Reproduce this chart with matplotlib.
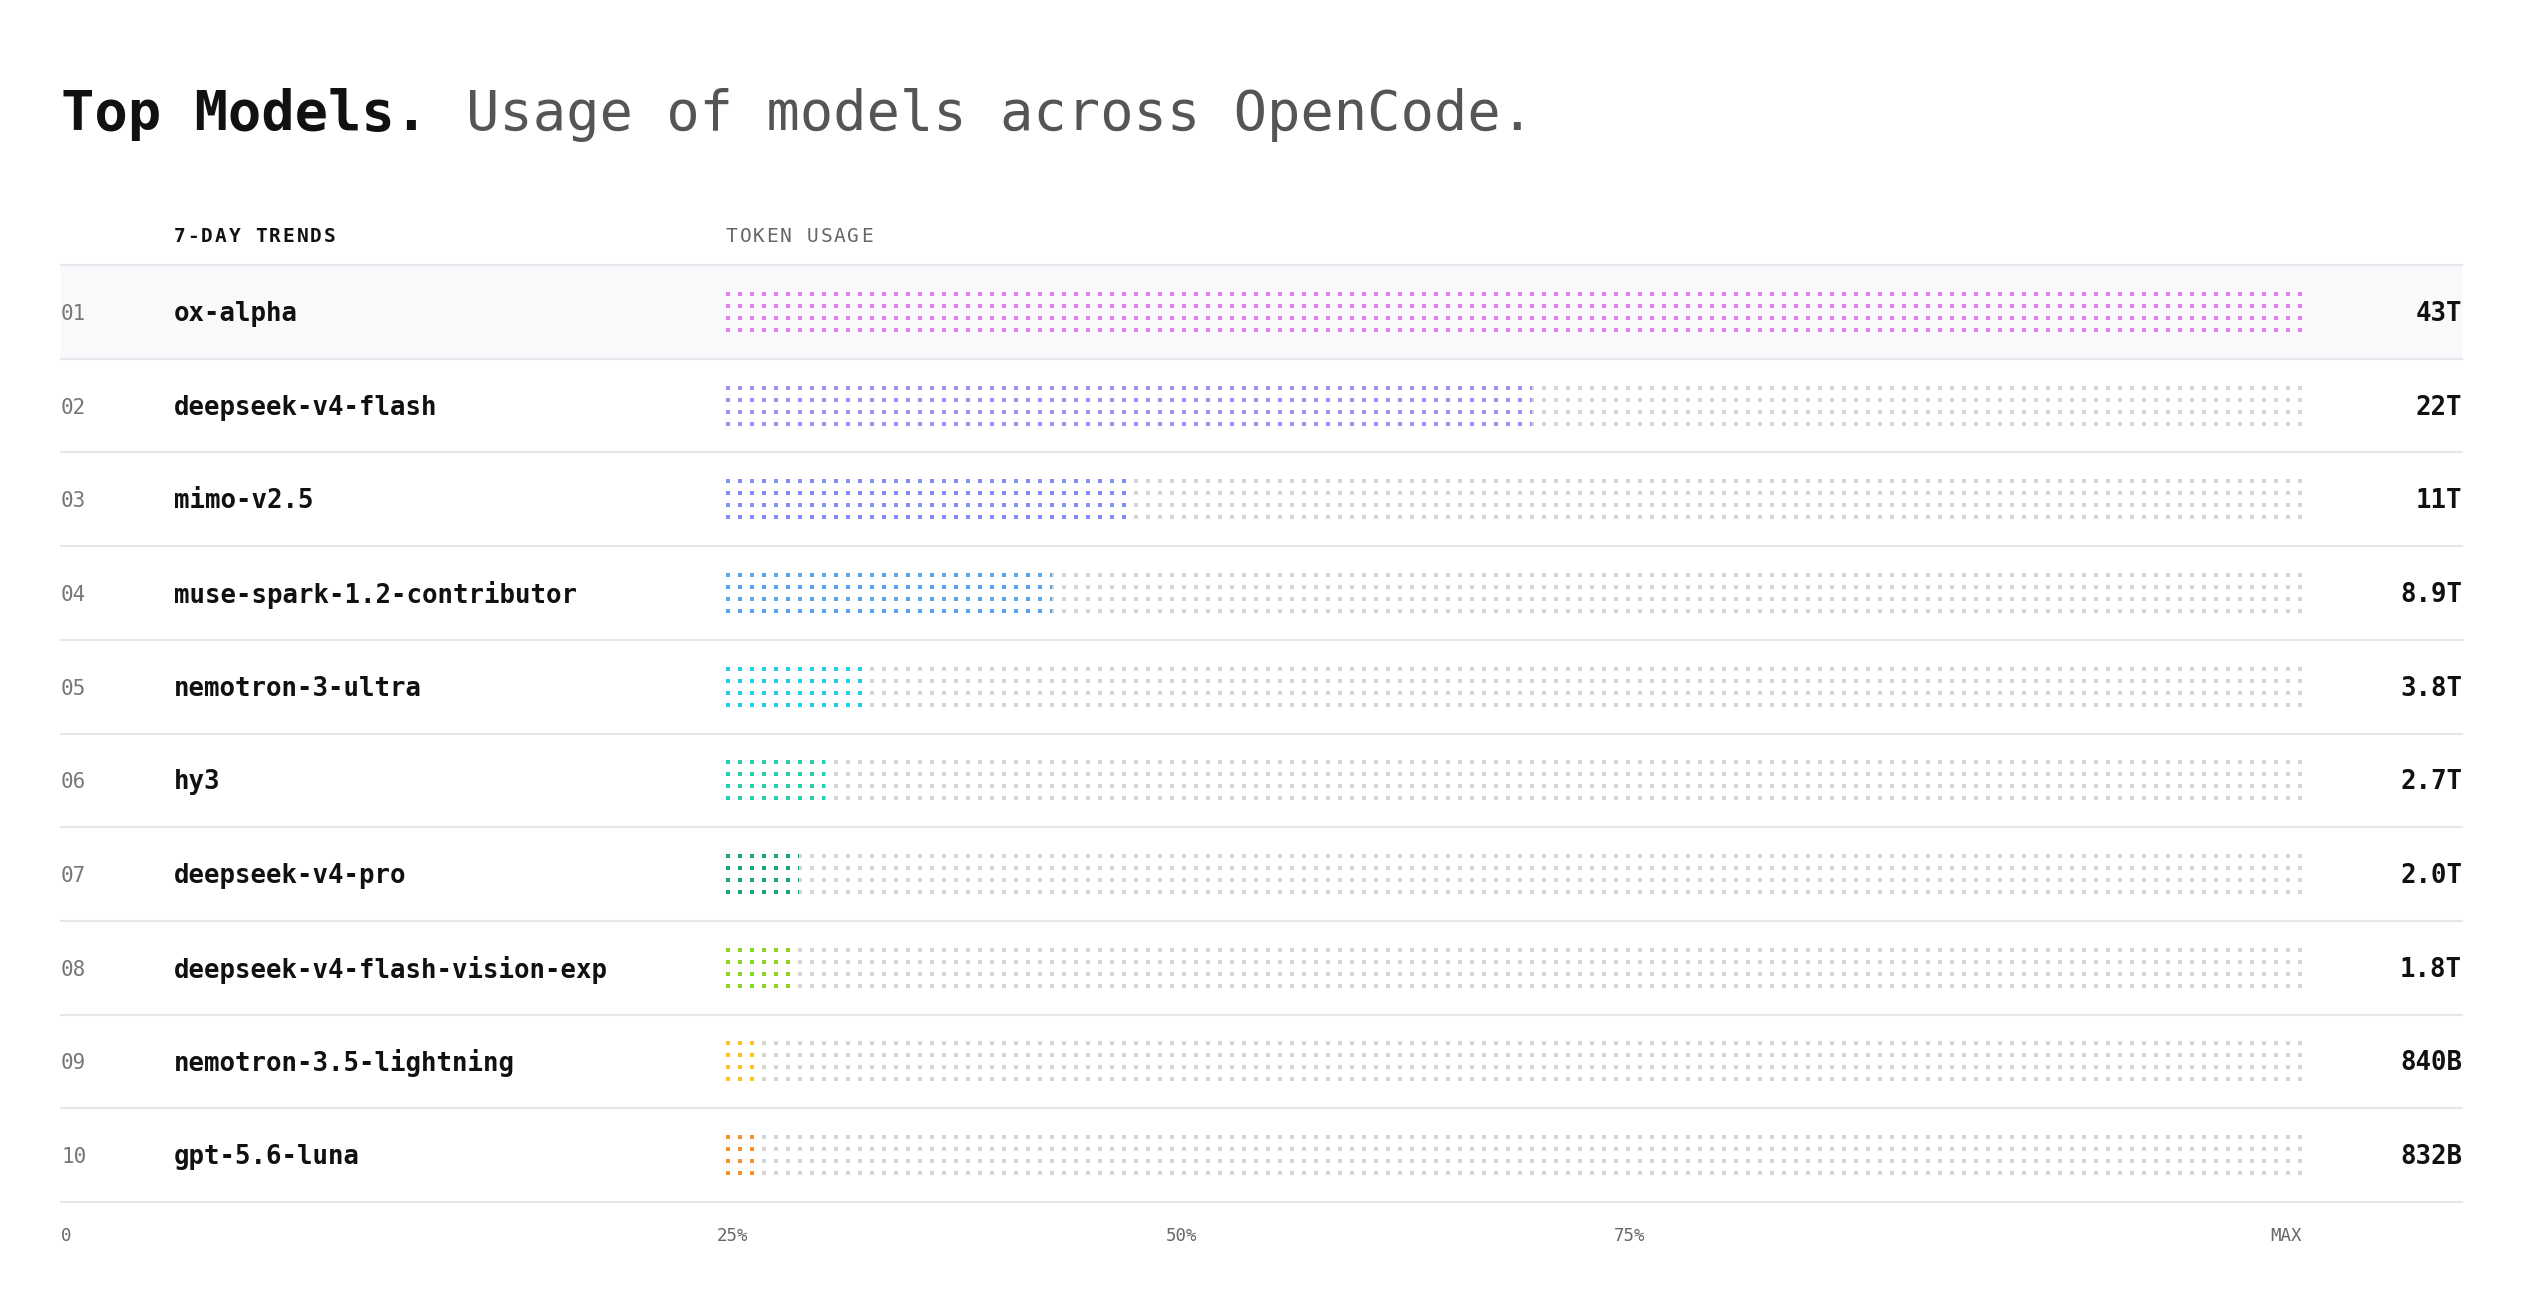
import matplotlib
matplotlib.use("Agg")
import matplotlib.pyplot as plt
from matplotlib.patches import Rectangle
from matplotlib.collections import PatchCollection

# data
models = ["ox-alpha", "deepseek-v4-flash", "mimo-v2.5", "muse-spark-1.2-contributor",
          "nemotron-3-ultra", "hy3", "deepseek-v4-pro", "deepseek-v4-flash-vision-exp",
          "nemotron-3.5-lightning", "gpt-5.6-luna"]
usage_tokens = [43e12, 22e12, 11e12, 8.9e12, 3.8e12, 2.7e12, 2.0e12, 1.8e12, 840e9, 832e9]
usage_labels = ["43T", "22T", "11T", "8.9T", "3.8T", "2.7T", "2.0T", "1.8T", "840B", "832B"]
row_colors = ["#e879f9", "#a48cf2", "#818cf8", "#56a5f0", "#22cfea",
              "#22d0aa", "#16a874", "#88d622", "#fbbf24", "#f7902f"]
scale_labels = ["0", "25%", "50%", "75%", "MAX"]

MONO = "DejaVu Sans Mono"
W, H = 2528, 1302

# layout (pixel units)
LEFT, RIGHT = 61, 2462
TABLE_TOP, ROW_H = 265, 93.7
NAME_X = 174
DOT_X0, PITCH, DOT, N_COLS = 726, 12, 4, 132
TRACK_W = (N_COLS - 1) * PITCH + DOT
DOT_OFFS = [-18, -6, 6, 18]

fig = plt.figure(figsize=(W / 100, H / 100), dpi=100)
ax = fig.add_axes([0, 0, 1, 1])
ax.set_xlim(0, W)
ax.set_ylim(H, 0)
ax.axis("off")


def spaced(x, y, s, step, **kw):
    for i, ch in enumerate(s):
        ax.text(x + i * step, y, ch, family=MONO, va="center", ha="left", **kw)


# title
ax.text(LEFT, 130, "Top Models.", family=MONO, fontsize=40, fontweight="bold",
        color="#111111", va="baseline")
ax.text(466, 130, "Usage of models across OpenCode.", family=MONO, fontsize=40,
        color="#555555", va="baseline")

# column headers
spaced(NAME_X, 237, "7-DAY TRENDS", 13.6, fontsize=14, color="#111111", fontweight="bold")
spaced(DOT_X0, 237, "TOKEN USAGE", 13.5, fontsize=14, color="#666666")

max_tok = max(usage_tokens)
for i, (name, tok, lab, col) in enumerate(zip(models, usage_tokens, usage_labels, row_colors)):
    top = TABLE_TOP + i * ROW_H
    yc = top + ROW_H / 2
    ty = yc + 2
    if i == 0:
        ax.add_patch(Rectangle((LEFT, top), RIGHT - LEFT, ROW_H, facecolor="#f8f9fb",
                               edgecolor="none", zorder=0))
    ax.plot([LEFT, RIGHT], [top, top], color="#e5e6e9", lw=1.5, zorder=1)

    ax.text(LEFT, ty, f"{i + 1:02d}", family=MONO, fontsize=15, color="#777777", va="center")
    ax.text(NAME_X, ty, name, family=MONO, fontsize=18.5, fontweight="bold",
            color="#111111", va="center")
    ax.text(RIGHT, ty, lab, family=MONO, fontsize=18.5, fontweight="bold",
            color="#111111", va="center", ha="right")

    gray, colored = [], []
    for c in range(N_COLS):
        for off in DOT_OFFS:
            x, y = DOT_X0 + c * PITCH, yc + off - DOT / 2
            gray.append(Rectangle((x, y), DOT, DOT))
            colored.append(Rectangle((x, y), DOT, DOT))
    ax.add_collection(PatchCollection(gray, facecolor="#d6d6d6", edgecolor="none", zorder=2))
    pc = PatchCollection(colored, facecolor=col, edgecolor="none", zorder=3)
    ax.add_collection(pc)
    clip = Rectangle((DOT_X0, top), TRACK_W * tok / max_tok, ROW_H, transform=ax.transData)
    pc.set_clip_path(clip)

bottom = TABLE_TOP + len(models) * ROW_H
ax.plot([LEFT, RIGHT], [bottom, bottom], color="#e5e6e9", lw=1.5, zorder=1)

# usage scale under the table
scale_x = [LEFT, 733, 1182, 1630, 2302]
scale_ha = ["left", "center", "center", "center", "right"]
for lab, x, ha in zip(scale_labels, scale_x, scale_ha):
    ax.text(x, 1236, lab, family=MONO, fontsize=12.5, color="#666666", va="center", ha=ha)

fig.savefig("out.png", dpi=100, facecolor="white")
